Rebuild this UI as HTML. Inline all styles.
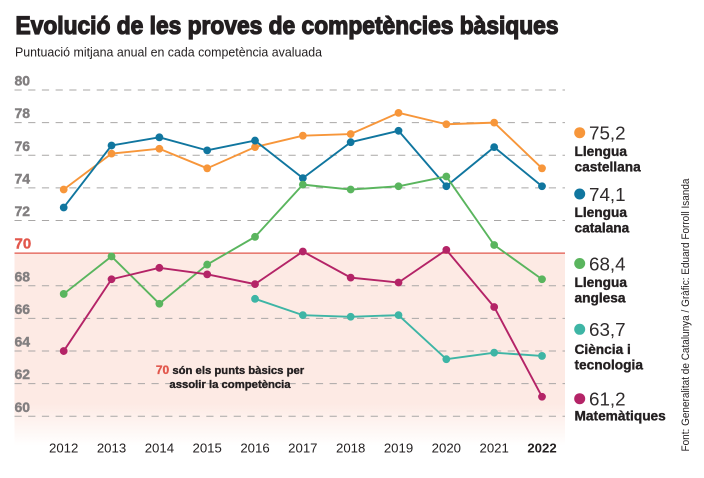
<!DOCTYPE html>
<html lang="ca">
<head>
<meta charset="utf-8">
<title>Evolució de les proves de competències bàsiques</title>
<style>
html,body{margin:0;padding:0;background:#fff;width:704px;height:478px;overflow:hidden}
svg{display:block;font-family:"Liberation Sans",sans-serif}
</style>
</head>
<body>
<svg id="chart" width="704" height="478" viewBox="0 0 704 478" xmlns="http://www.w3.org/2000/svg">
<defs>
<linearGradient id="fade" x1="0" y1="0" x2="0" y2="1">
<stop offset="0" stop-color="#fdeae4"/>
<stop offset="0.78" stop-color="#fdeae4"/>
<stop offset="1" stop-color="#ffffff"/>
</linearGradient>
</defs>
<text x="15.5" y="34" font-size="25" font-weight="700" fill="#231f20" stroke="#231f20" stroke-width="1.25" textLength="543" lengthAdjust="spacingAndGlyphs">Evolució de les proves de competències bàsiques</text>
<text x="15" y="56.5" font-size="12.5" fill="#231f20" textLength="307" lengthAdjust="spacingAndGlyphs">Puntuació mitjana anual en cada competència avaluada</text>
<rect id="band" x="14.5" width="550.5" fill="url(#fade)"/>
<g id="grid"></g>
<g id="yticks"></g>
<g id="xticks"></g>
<line id="refline" x1="14.5" x2="565" stroke="#e2574c" stroke-width="1.3"/>
<text id="reflabel" x="14.5" font-size="15" font-weight="700" fill="#e2574c" stroke="#e2574c" stroke-width="0.4">70</text>
<g id="series"></g>
<g font-size="11.3" font-weight="700" fill="#231f20" text-anchor="middle">
<text x="230" y="374" stroke="#231f20" stroke-width="0.35"><tspan fill="#e2574c" stroke="#e2574c" font-size="12">70</tspan> són els punts bàsics per</text>
<text x="230" y="388" stroke="#231f20" stroke-width="0.35">assolir la competència</text>
</g>
<g id="legend"></g>
<text transform="translate(689,451.5) rotate(-90)" font-size="10.6" fill="#231f20" textLength="273" lengthAdjust="spacingAndGlyphs">Font: Generalitat de Catalunya / Gràfic: Eduard Forroll Isanda</text>
</svg>
<script>
const years = [2012,2013,2014,2015,2016,2017,2018,2019,2020,2021,2022];
const yTickValues = [80,78,76,74,72,68,66,64,62,60];
const threshold = 70;
const castellana = [73.9,76.1,76.4,75.2,76.5,77.2,77.3,78.6,77.9,78.0,75.2];
const catalana = [72.8,76.6,77.1,76.3,76.9,74.6,76.8,77.5,74.1,76.5,74.1];
const anglesa = [67.5,69.8,66.9,69.3,71.0,74.2,73.9,74.1,74.7,70.5,68.4];
const ciencia = [null,null,null,null,67.2,66.2,66.1,66.2,63.5,63.9,63.7];
const matematiques = [64.0,68.4,69.1,68.7,68.1,70.1,68.5,68.2,70.2,66.7,61.2];
const seriesNames = ['castellana','catalana','anglesa','ciencia','matematiques'];
const seriesValues = [castellana,catalana,anglesa,ciencia,matematiques];
const seriesColors = ['#f7963a','#10769f','#5ab55e','#3eb5a5','#b42467'];
const legendValues = ['75,2','74,1','68,4','63,7','61,2'];
const legendLabels = [['Llengua','castellana'],['Llengua','catalana'],['Llengua','anglesa'],['Ciència i','tecnologia'],['Matemàtiques']];
const NS = 'http://www.w3.org/2000/svg';
const xAxis = y => 63.7 + (y - 2012) * 47.83;
const yAxis = v => 416.3 - (v - 60) * 16.315;
function make(tag, attrs, parent, text){
  const el = document.createElementNS(NS, tag);
  for (const k in attrs) el.setAttribute(k, attrs[k]);
  if (text !== undefined) el.textContent = text;
  parent.appendChild(el);
  return el;
}
const band = document.getElementById('band');
band.setAttribute('y', yAxis(threshold));
band.setAttribute('height', 446 - yAxis(threshold));
const refline = document.getElementById('refline');
refline.setAttribute('y1', yAxis(threshold));
refline.setAttribute('y2', yAxis(threshold));
document.getElementById('reflabel').setAttribute('y', yAxis(threshold) - 4.5);
const grid = document.getElementById('grid');
const yticks = document.getElementById('yticks');
yTickValues.forEach(v => {
  const line = make('line', {x1:14.5, x2:565, y1:yAxis(v), y2:yAxis(v), stroke:'#a9a7a6', 'stroke-width':1, 'stroke-dasharray':'7.2 6.5'}, grid);
  
  
  const label = make('text', {x:14.5, y:yAxis(v) - 4.5, 'font-size':14, 'font-weight':700, fill:'#827f80', stroke:'#827f80', 'stroke-width':0.4}, yticks, String(v));
  
  
});
const xticks = document.getElementById('xticks');
years.forEach(y => {
  const last = y === 2022;
  const label = make('text', {x:xAxis(y), y:452.5, 'font-size':13.2, 'text-anchor':'middle', fill:'#231f20', 'font-weight':last ? 700 : 400}, xticks, String(y));
  
  
});
const seriesGroup = document.getElementById('series');
seriesValues.forEach((vals, i) => {
  const g = make('g', {}, seriesGroup);
  
  
  const pts = [];
  vals.forEach((v, j) => { if (v !== null) pts.push([xAxis(years[j]), yAxis(v), years[j]]); });
  const line = make('polyline', {points:pts.map(p => p[0] + ',' + p[1]).join(' '), fill:'none', stroke:seriesColors[i], 'stroke-width':1.9, 'stroke-linejoin':'round'}, g);
  
  
  pts.forEach(p => {
    const dot = make('circle', {cx:p[0], cy:p[1], r:3.9, fill:seriesColors[i]}, g);
    
    
  });
});
const legendTop = [132.7, 194, 263.5, 329.3, 398.7];
const legendLabelOffset = [23.5, 23, 23.5, 24.5, 22];
const legendGroup = document.getElementById('legend');
legendValues.forEach((val, i) => {
  const y = legendTop[i];
  const g = make('g', {}, legendGroup);
  
  
  const dot = make('circle', {cx:579.7, cy:y, r:5.5, fill:seriesColors[i]}, g);
  
  
  const value = make('text', {x:589, y:y + 6.8, 'font-size':18.8, fill:'#2f2b2c'}, g, val);
  
  
  legendLabels[i].forEach((t, k) => {
    const label = make('text', {x:574.5, y:y + legendLabelOffset[i] + k * 15.5, 'font-size':13.7, 'font-weight':700, fill:'#231f20', stroke:'#231f20', 'stroke-width':0.35}, g, t);
    
    
  });
});
</script>
</body>
</html>
